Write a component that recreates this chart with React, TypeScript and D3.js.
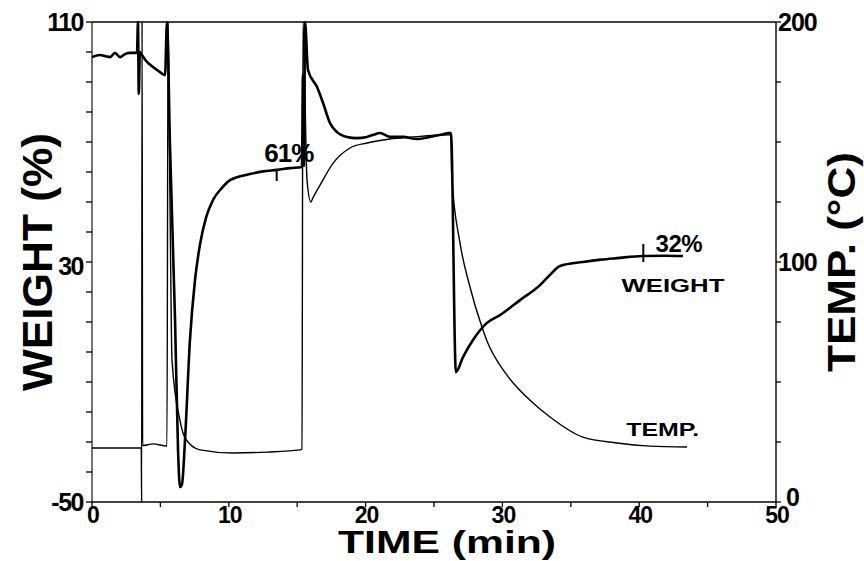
import React from 'react';
import * as d3 from 'd3';

const WIDTH = 864;
const HEIGHT = 561;
const margin = { top: 22, right: 88, bottom: 59, left: 92 };

// weight trace (thick pen), % of initial
const weightTime = [
  0, 0.58, 1.0, 1.32, 1.68, 2.05, 2.41, 2.78, 3.29, 3.36, 3.42, 3.5, 3.65, 4.02, 4.46, 4.97, 5.34,
  5.48, 5.7, 6.07, 6.29, 6.43, 6.58, 6.8, 7.16, 7.53, 7.89, 8.33, 8.85, 9.5, 10.09, 11.55, 12.5,
  13.52, 14.47, 15.35, 15.42, 15.5, 15.57, 15.79, 16.45, 16.89, 17.4, 17.91, 18.64, 19.37, 20.1,
  20.6, 21.05, 21.78, 22.73, 23.76, 24.71, 25.5, 26.1, 26.24, 26.6, 27.12, 27.85, 28.87, 29.82,
  31.29, 32.75, 33.48, 34.21, 35.89, 37.2, 38.38, 40.28, 41.8, 43.2,
];
const weightPct = [
  98.3, 99, 98.6, 98.3, 99.7, 98.3, 99.3, 99.7, 99.7, 112, 86, 100, 99, 96.7, 95, 93.3, 92.3,
  112, 69, 10.7, -32.7, -45, -44, -29.3, 4, 24, 35.7, 44.7, 50.7, 54.7, 57.3, 59.3, 60.2,
  60.7, 61.3, 61.7, 92.3, 62, 112, 94, 88.3, 83, 76.3, 73.3, 71.7, 71.3, 71.7,
  72.4, 73, 71.7, 71.7, 71, 71.7, 72.4, 73, 73, -6.7, -1.7, 4, 9.7, 12.3,
  17.3, 22.3, 25.7, 28.7, 30, 30.8, 31.3, 32, 32.1, 32,
];

// temperature trace (thin pen), deg C
const tempTime = [
  0, 3.6, 3.63, 3.66, 3.7, 4.46, 5.48, 5.56, 5.7, 5.85, 6.43, 6.8, 7.89, 10.3, 12.8, 15.2,
  15.35, 15.42, 15.72, 16.0, 16.15, 16.67, 17.6, 18.86, 20.1, 21.78, 23.25, 26.1, 26.24, 26.3,
  26.9, 27.63, 28.5, 28.95, 29.82, 30.92, 32.0, 33.48, 35.89, 38.38, 40.8, 43.5,
];
const tempC = [
  22.5, 22.5, -5, 210, 23.5, 24.2, 23.3, 210, 125.8, 59, 34, 26.7, 21.7, 20.4, 20.8, 21.7,
  22, 210, 134, 125, 126.7, 132, 141, 147.5, 149.6, 151.25, 152, 153, 153, 135.4,
  108, 89.6, 73, 66, 57, 48.75, 42.5, 35.4, 27, 24.6, 23.3, 22.9,
];

const timeTicks = [0, 5, 10, 15, 20, 25, 30, 35, 40, 45, 50];
const timeLabels = [0, 10, 20, 30, 40, 50];
const weightTicks = [-50, -40, -30, -20, -10, 0, 10, 20, 30, 40, 50, 60, 70, 80, 90, 100, 110];
const weightLabels = [-50, 30, 110];
const tempTicks = [0, 25, 50, 75, 100, 125, 150, 175, 200];
const tempLabels = [0, 100, 200];

const FONT = "'Liberation Sans', Arial, sans-serif";

export default function App() {
  const x = d3.scaleLinear().domain([0, 50]).range([margin.left, WIDTH - margin.right]);
  const yW = d3.scaleLinear().domain([-50, 110]).range([HEIGHT - margin.bottom, margin.top]).clamp(true);
  const yT = d3.scaleLinear().domain([0, 200]).range([HEIGHT - margin.bottom, margin.top]).clamp(true);

  const x0 = x(0);
  const x1 = x(50);
  const y0 = yW(-50);
  const y1 = yW(110);

  const weightLine = d3.line<number>()
    .x((d, i) => x(weightTime[i]))
    .y(d => yW(d))
    .curve(d3.curveMonotoneX);
  const tempLine = d3.line<number>()
    .x((d, i) => x(tempTime[i]))
    .y(d => yT(d))
    .curve(d3.curveMonotoneX);

  const label = { fontFamily: FONT, fontWeight: 'bold', fill: '#000' } as const;

  return (
    <svg width={WIDTH} height={HEIGHT} style={{ position: 'fixed', left: 0, top: 0, background: '#fff' }}>
      {/* frame */}
      <line x1={x0} x2={x1} y1={y1} y2={y1} stroke="#000" strokeWidth={1.6} />
      <line x1={x0} x2={x1} y1={y0} y2={y0} stroke="#000" strokeWidth={1.6} />
      <line x1={x0} x2={x0} y1={y1} y2={y0} stroke="#000" strokeWidth={1.1} />
      <line x1={x1} x2={x1} y1={y1} y2={y0} stroke="#000" strokeWidth={1.4} />

      {/* left ticks */}
      {weightTicks.map(v => (
        <line key={'wt' + v} x1={x0 - 6} x2={x0} y1={yW(v)} y2={yW(v)} stroke="#000" strokeWidth={1.3} />
      ))}
      {weightLabels.map(v => (
        <text key={'wl' + v} x={x0 - 9} y={yW(v) + (v === 30 ? 13 : 9)} textAnchor="end"
          fontSize={25} letterSpacing={-1.5} style={label}>{v}</text>
      ))}

      {/* right ticks */}
      {tempTicks.map(v => (
        <line key={'tt' + v} x1={x1} x2={x1 + 5} y1={yT(v)} y2={yT(v)} stroke="#000" strokeWidth={1.3} />
      ))}
      {tempLabels.map(v => (
        <text key={'tl' + v} x={x1 + (v === 0 ? 10 : 2)} y={yT(v) + (v === 0 ? 4 : 9)} textAnchor="start"
          fontSize={25} letterSpacing={-1} style={label}>{v}</text>
      ))}

      {/* bottom ticks */}
      {timeTicks.map(v => (
        <line key={'xt' + v} x1={x(v)} x2={x(v)} y1={y0} y2={y0 + 5} stroke="#000" strokeWidth={1.3} />
      ))}
      {timeLabels.map(v => (
        <text key={'xl' + v} x={x(v) + 1} y={y0 + 21} textAnchor="middle"
          fontSize={23} letterSpacing={-1} style={label}>{v}</text>
      ))}

      {/* traces */}
      <path d={tempLine(tempC) || ''} fill="none" stroke="#000" strokeWidth={1.4} strokeLinejoin="round" />
      <path d={weightLine(weightPct) || ''} fill="none" stroke="#000" strokeWidth={2.6} strokeLinejoin="round" />

      {/* level marks */}
      <line x1={x(13.5)} x2={x(13.5)} y1={yW(61)} y2={yW(57)} stroke="#000" strokeWidth={2} />
      <line x1={x(40.3)} x2={x(40.3)} y1={yW(36)} y2={yW(30)} stroke="#000" strokeWidth={2} />
      <text x={x(12.6)} y={yW(63.5)} fontSize={26} letterSpacing={-1} style={label}>61%</text>
      <text x={x(41.2)} y={yW(33.2)} fontSize={24} letterSpacing={-0.5} style={label}>32%</text>
      <text x={x(38.7)} y={yW(20)} fontSize={19} textLength={103} lengthAdjust="spacingAndGlyphs" style={label}>WEIGHT</text>
      <text x={x(39.05)} y={yT(27.5)} fontSize={19} textLength={73} lengthAdjust="spacingAndGlyphs" style={label}>TEMP.</text>

      {/* axis titles */}
      <text transform={`translate(52,${(y0 + y1) / 2}) rotate(-90)`} textAnchor="middle" fontSize={42}
        textLength={258} lengthAdjust="spacingAndGlyphs" style={label}>WEIGHT (%)</text>
      <text x={447} y={553} textAnchor="middle" fontSize={31}
        textLength={218} lengthAdjust="spacingAndGlyphs" style={label}>TIME (min)</text>
      <text transform={`translate(855,${(y0 + y1) / 2}) rotate(-90)`} textAnchor="middle" fontSize={38}
        textLength={220} lengthAdjust="spacingAndGlyphs" style={label}>TEMP. (°C)</text>
    </svg>
  );
}
